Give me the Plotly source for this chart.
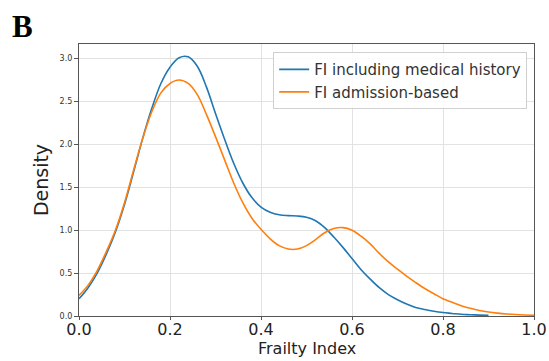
import plotly.graph_objects as go

x_grid = [round(0.02 * i, 2) for i in range(51)]

y_blue = [0.20, 0.33, 0.50, 0.72, 0.98, 1.30, 1.68, 2.07, 2.42, 2.71,
          2.90, 3.01, 3.02, 2.91, 2.67, 2.36, 2.06, 1.78, 1.55, 1.38,
          1.27, 1.21, 1.18, 1.17, 1.165, 1.15, 1.11, 1.03, 0.92, 0.80,
          0.67, 0.54, 0.43, 0.33, 0.25, 0.19, 0.14, 0.10, 0.075, 0.055,
          0.04, 0.03, 0.02, 0.015, 0.01, 0.007]
x_blue = x_grid[:len(y_blue)]

y_orange = [0.24, 0.36, 0.53, 0.75, 1.00, 1.32, 1.70, 2.07, 2.38, 2.60,
            2.71, 2.75, 2.71, 2.58, 2.35, 2.09, 1.82, 1.55, 1.32, 1.14,
            1.01, 0.90, 0.82, 0.78, 0.78, 0.82, 0.89, 0.97, 1.02, 1.03,
            1.00, 0.93, 0.84, 0.73, 0.63, 0.545, 0.465, 0.39, 0.32, 0.26,
            0.20, 0.16, 0.12, 0.09, 0.065, 0.047, 0.034, 0.024, 0.017, 0.012,
            0.008]
x_orange = x_grid[:len(y_orange)]

names = ["FI including medical history", "FI admission-based"]
colors = ["#1f77b4", "#ff7f0e"]

fig = go.Figure()
fig.add_trace(go.Scatter(x=x_blue, y=y_blue, mode="lines", name=names[0],
                         line=dict(color=colors[0], width=1.6, shape="spline", smoothing=1.0)))
fig.add_trace(go.Scatter(x=x_orange, y=y_orange, mode="lines", name=names[1],
                         line=dict(color=colors[1], width=1.6, shape="spline", smoothing=1.0)))

fig.update_layout(
    width=549, height=361,
    margin=dict(l=79, r=15, t=44, b=45, autoexpand=False),
    paper_bgcolor="white", plot_bgcolor="white",
    font=dict(family="DejaVu Sans", color="#222"),
    showlegend=True,
    legend=dict(x=0.985, y=0.97, xanchor="right", yanchor="top",
                bgcolor="rgba(255,255,255,0.85)", bordercolor="#d0d0d0", borderwidth=1,
                font=dict(size=15, family="DejaVu Sans", color="#333"),
                tracegroupgap=0, itemwidth=30),
    xaxis=dict(range=[0, 1], tickvals=[0, 0.2, 0.4, 0.6, 0.8, 1.0],
               ticktext=["0.0", "0.2", "0.4", "0.6", "0.8", "1.0"], automargin=False,
               tickfont=dict(size=16, color="#222"), ticks="outside", ticklen=3, tickcolor="#555",
               ticklabelstandoff=-4,
               showgrid=True, gridcolor="#e2e2e2", gridwidth=1.2,
               showline=True, linecolor="#555", linewidth=1.2, mirror=True, zeroline=False),
    yaxis=dict(range=[0, 3.17], tickvals=[0, 0.5, 1.0, 1.5, 2.0, 2.5, 3.0],
               ticktext=["0.0", "0.5", "1.0", "1.5", "2.0", "2.5", "3.0"], automargin=False,
               tickfont=dict(size=8, color="#333"), ticks="outside", ticklen=4, tickcolor="#555",
               showgrid=True, gridcolor="#e2e2e2", gridwidth=1.2,
               showline=True, linecolor="#555", linewidth=1.2, mirror=True, zeroline=False,
               title=dict(text="Density", font=dict(size=19, color="#222"), standoff=5)),
)

fig.add_annotation(text="Frailty Index", xref="paper", yref="paper", x=0.5, y=-0.118,
                   xanchor="center", yanchor="middle", showarrow=False,
                   font=dict(family="DejaVu Sans", size=16, color="#222"))

fig.add_annotation(text="<b>B</b>", xref="paper", yref="paper", x=-0.152, y=1.135,
                   xanchor="left", yanchor="top", showarrow=False,
                   font=dict(family="Liberation Serif", size=31, color="black"))

fig.write_html("out.html")
